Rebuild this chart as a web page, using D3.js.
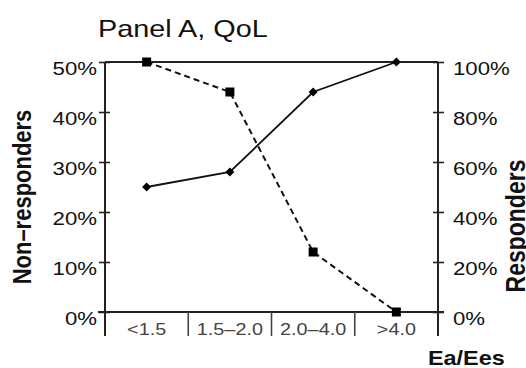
<!DOCTYPE html>
<html>
<head>
<meta charset="utf-8">
<script src="https://cdn.jsdelivr.net/npm/d3@7"></script>
<style>
  body { margin: 0; background: #fff; }
  svg { display: block; font-family: "Liberation Sans", Arial, sans-serif; }
</style>
</head>
<body>
<svg width="526" height="368"></svg>
<script>
// data
const categories = ["<1.5", "1.5\u20132.0", "2.0\u20134.0", ">4.0"];
const nonResponders = [0.50, 0.44, 0.12, 0.00];   // left axis, dashed, squares
const responders = [0.50, 0.56, 0.88, 1.00];      // right axis, solid, diamonds
const leftTicks = [0, 0.1, 0.2, 0.3, 0.4, 0.5];
const rightTicks = [0, 0.2, 0.4, 0.6, 0.8, 1.0];

const SX = 1.2; // the original figure is stretched horizontally
var svg = d3.select("svg");

// plot box (note: "top" is taken by window.top, so prefix these)
var pLeft = 105, pRight = 438, pTop = 62, pBottom = 312;

var x = d3.scaleBand().domain(categories).range([pLeft, pRight]).padding(0);
var yL = d3.scaleLinear().domain([0, 0.5]).range([pBottom, pTop]);
var yR = d3.scaleLinear().domain([0, 1]).range([pBottom, pTop]);

// stretched text helper
function stretchText(sel, xx, yy, rot) {
    sel.attr("transform", "translate(" + xx + "," + yy + ") scale(" + SX + ",1)" + (rot ? " rotate(" + rot + ")" : ""));
}

// title
svg.append("text")
    .text("Panel A, QoL")
    .attr("font-size", 24)
    .attr("fill", "#111")
    .call(stretchText, 98, 37);

// left axis
var axL = svg.append("g")
    .attr("transform", "translate(" + pLeft + ",0)")
    .call(d3.axisLeft(yL).tickValues(leftTicks).tickFormat(d3.format(".0%")).tickSizeOuter(0));
axL.select(".domain").remove();
axL.selectAll(".tick line").attr("x1", -6).attr("x2", 5).attr("stroke", "#222").attr("stroke-width", 1.6);
axL.selectAll(".tick text")
    .attr("x", -8 / SX).attr("dy", "0.66em")
    .attr("transform", "scale(" + SX + ",1)")
    .attr("font-size", 18.5).attr("fill", "#111")
    .attr("font-family", "Liberation Sans, Arial, sans-serif");

// right axis
var axR = svg.append("g")
    .attr("transform", "translate(" + pRight + ",0)")
    .call(d3.axisRight(yR).tickValues(rightTicks).tickFormat(d3.format(".0%")).tickSizeOuter(0));
axR.select(".domain").remove();
axR.selectAll(".tick line").attr("x1", -5).attr("x2", 6).attr("stroke", "#222").attr("stroke-width", 1.6);
axR.selectAll(".tick text")
    .attr("x", 15 / SX).attr("dy", "0.66em")
    .attr("transform", "scale(" + SX + ",1)")
    .attr("font-size", 18.5).attr("fill", "#111")
    .attr("font-family", "Liberation Sans, Arial, sans-serif");

// frame: top line, bottom axis
var frame = svg.append("g").attr("stroke", "#222").attr("stroke-width", 2).attr("fill", "none");
frame.append("line").attr("x1", pLeft).attr("x2", pRight).attr("y1", pTop).attr("y2", pTop);
frame.append("line").attr("x1", pLeft - 7).attr("x2", pRight + 6).attr("y1", pBottom).attr("y2", pBottom);

// band separators, which also carry the y axes down below the plot
var edges = categories.map(d => x(d)).concat([pRight]);
frame.selectAll(".sep")
    .data(edges)
    .enter()
    .append("line")
    .attr("x1", d => d).attr("x2", d => d)
    .attr("y1", (d, i) => (i == 0 || i == edges.length - 1) ? pTop : pBottom)
    .attr("y2", pBottom + 24)
    .attr("stroke", (d, i) => (i == 0 || i == edges.length - 1) ? "#222" : "#444")
    .attr("stroke-width", (d, i) => (i == 0 || i == edges.length - 1) ? 2 : 1.6);

// category labels
svg.append("g")
    .selectAll("text")
    .data(categories)
    .enter()
    .append("text")
    .text(d => d)
    .attr("font-size", 16.5)
    .attr("fill", "#444")
    .attr("text-anchor", "middle")
    .each(function(d) { stretchText(d3.select(this), x(d) + x.bandwidth() / 2, 335); });

// axis titles
svg.append("text")
    .text("Non\u2013responders")
    .attr("font-size", 22).attr("font-weight", "bold").attr("fill", "#111")
    .attr("text-anchor", "middle")
    .call(stretchText, 31, 197, -90);

// sits right at the edge, as in the original
svg.append("text")
    .text("Responders")
    .attr("font-size", 23).attr("font-weight", "bold").attr("fill", "#111")
    .attr("text-anchor", "middle")
    .call(stretchText, 525, 226, -90);

svg.append("text")
    .text("Ea/Ees")
    .attr("font-size", 19.5).attr("font-weight", "bold").attr("fill", "#111")
    .call(stretchText, 428, 365);

// series
var cx = d => x(d) + x.bandwidth() / 2;

var nonData = categories.map((c, i) => ({ c: c, v: nonResponders[i] }));
var resData = categories.map((c, i) => ({ c: c, v: responders[i] }));

svg.append("path")
    .datum(nonData)
    .attr("fill", "none")
    .attr("stroke", "#111")
    .attr("stroke-width", 2)
    .attr("stroke-dasharray", "6,4")
    .attr("d", d3.line().x(d => cx(d.c)).y(d => yL(d.v)));

svg.append("path")
    .datum(resData)
    .attr("fill", "none")
    .attr("stroke", "#111")
    .attr("stroke-width", 1.8)
    .attr("d", d3.line().x(d => cx(d.c)).y(d => yR(d.v)));

svg.append("g")
    .selectAll("path")
    .data(nonData)
    .enter()
    .append("path")
    .attr("d", d3.symbol().type(d3.symbolSquare).size(81))
    .attr("transform", d => "translate(" + cx(d.c) + "," + yL(d.v) + ")")
    .attr("fill", "#000");

svg.append("g")
    .selectAll("path")
    .data(resData)
    .enter()
    .append("path")
    .attr("d", d3.symbol().type(d3.symbolSquare).size(40))
    .attr("transform", d => "translate(" + cx(d.c) + "," + yR(d.v) + ") rotate(45)")
    .attr("fill", "#000");
</script>
</body>
</html>
